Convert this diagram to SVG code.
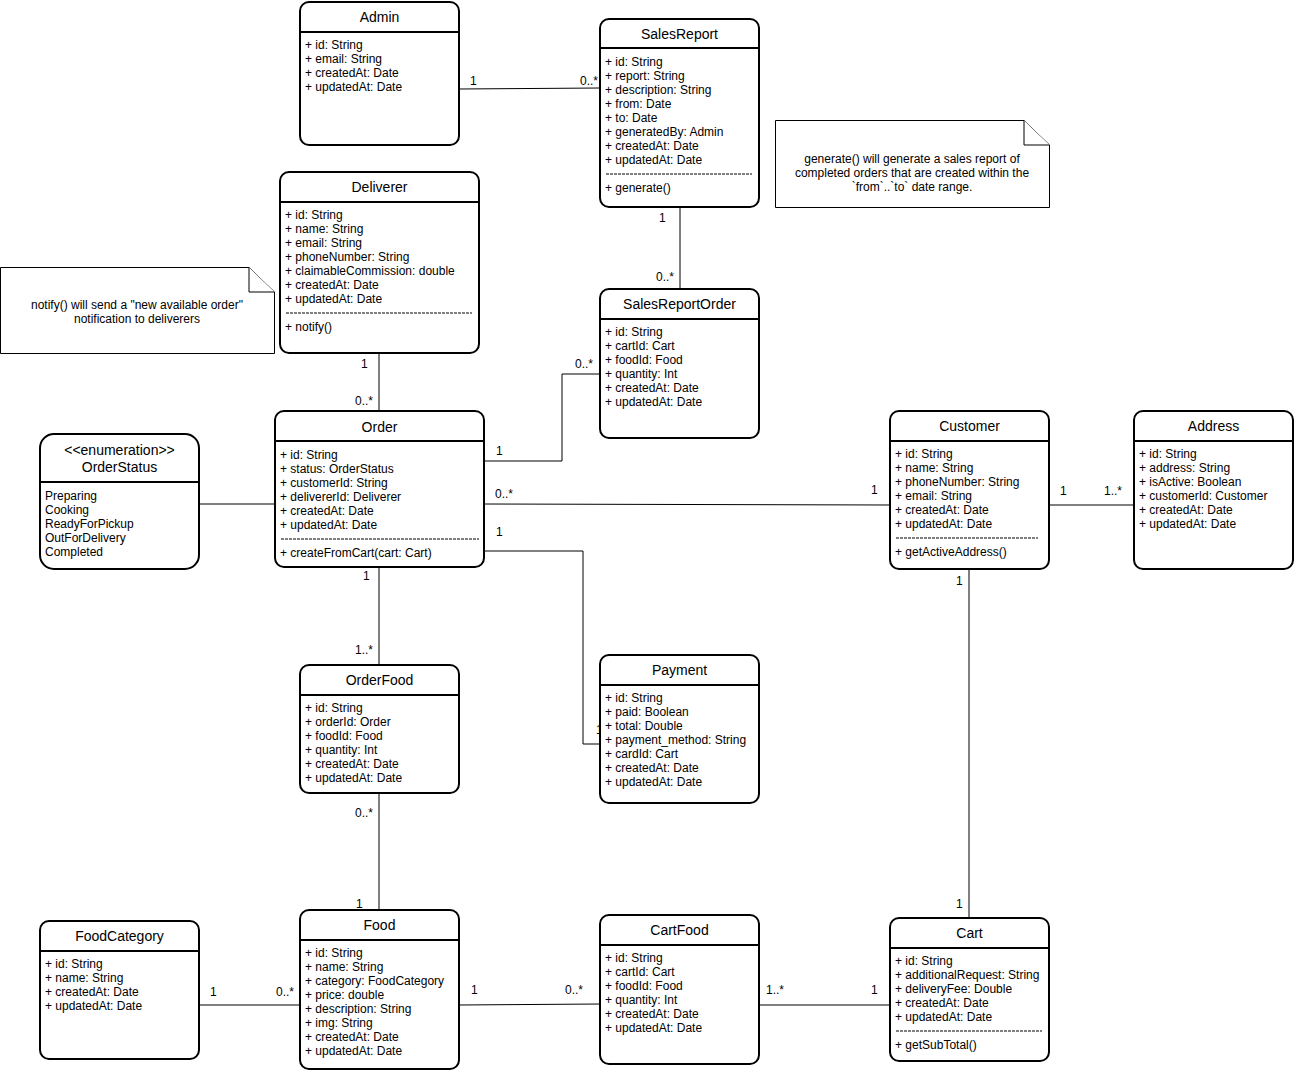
<svg xmlns="http://www.w3.org/2000/svg" width="1295" height="1071" viewBox="0 0 1295 1071">
<style>
.box{fill:#fff;stroke:#000;stroke-width:2}
.hd{stroke:#000;stroke-width:2}
.dash{stroke:#000;stroke-width:1;stroke-dasharray:3 1}
.t{font-family:"Liberation Sans",Arial,sans-serif;font-size:14px;text-anchor:middle;fill:#000}
.a{font-family:"Liberation Sans",Arial,sans-serif;font-size:12px;fill:#000}
.l{font-family:"Liberation Sans",Arial,sans-serif;font-size:12px;fill:#000}
.lm{font-family:"Liberation Sans",Arial,sans-serif;font-size:12px;fill:#000;text-anchor:middle}
.c{fill:none;stroke:#000;stroke-width:1}
.note{fill:#fff;stroke:#000;stroke-width:1}
</style>
<rect width="1295" height="1071" fill="#fff"/>

<g id="connectors">
<path class="c" d="M459,89 L600,88"/>
<path class="c" d="M680,207 L680,289"/>
<path class="c" d="M379,353 L379,411"/>
<path class="c" d="M484,461 L562,461 L562,374 L600,374"/>
<path class="c" d="M199,504 L275,504"/>
<path class="c" d="M484,504 L890,505"/>
<path class="c" d="M484,551 L583,551 L583,744 L600,744"/>
<path class="c" d="M379,567 L379,665"/>
<path class="c" d="M379,793 L379,910"/>
<path class="c" d="M199,1005 L300,1005"/>
<path class="c" d="M459,1005 L600,1004"/>
<path class="c" d="M759,1005 L890,1005"/>
<path class="c" d="M1049,505 L1134,505"/>
<path class="c" d="M969,569 L969,918"/>
<text class="l" x="470" y="85">1</text>
<text class="l" x="580" y="85">0..*</text>
<text class="l" x="659" y="222">1</text>
<text class="l" x="656" y="281">0..*</text>
<text class="l" x="361" y="368">1</text>
<text class="l" x="355" y="405">0..*</text>
<text class="l" x="496" y="455">1</text>
<text class="l" x="575" y="368">0..*</text>
<text class="l" x="495" y="498">0..*</text>
<text class="l" x="871" y="494">1</text>
<text class="l" x="496" y="536">1</text>
<text class="l" x="596" y="734">1</text>
<text class="l" x="363" y="580">1</text>
<text class="l" x="355" y="654">1..*</text>
<text class="l" x="355" y="817">0..*</text>
<text class="l" x="356" y="908">1</text>
<text class="l" x="210" y="996">1</text>
<text class="l" x="276" y="996">0..*</text>
<text class="l" x="471" y="994">1</text>
<text class="l" x="565" y="994">0..*</text>
<text class="l" x="766" y="994">1..*</text>
<text class="l" x="871" y="994">1</text>
<text class="l" x="1060" y="495">1</text>
<text class="l" x="1104" y="495">1..*</text>
<text class="l" x="956" y="585">1</text>
<text class="l" x="956" y="908">1</text>
</g>

<g id="Admin">
<rect class="box" x="300" y="2" width="159" height="143" rx="9"/>
<line class="hd" x1="300" y1="32" x2="459" y2="32"/>
<text class="t" x="379.5" y="22">Admin</text>
<text class="a" x="305" y="49">+ id: String</text>
<text class="a" x="305" y="63">+ email: String</text>
<text class="a" x="305" y="77">+ createdAt: Date</text>
<text class="a" x="305" y="91">+ updatedAt: Date</text>
</g>

<g id="SalesReport">
<rect class="box" x="600" y="19" width="159" height="188" rx="9"/>
<line class="hd" x1="600" y1="48" x2="759" y2="48"/>
<text class="t" x="679.5" y="39">SalesReport</text>
<text class="a" x="605" y="66">+ id: String</text>
<text class="a" x="605" y="80">+ report: String</text>
<text class="a" x="605" y="94">+ description: String</text>
<text class="a" x="605" y="108">+ from: Date</text>
<text class="a" x="605" y="122">+ to: Date</text>
<text class="a" x="605" y="136">+ generatedBy: Admin</text>
<text class="a" x="605" y="150">+ createdAt: Date</text>
<text class="a" x="605" y="164">+ updatedAt: Date</text>
<line class="dash" x1="606" y1="174" x2="752" y2="174"/>
<text class="a" x="605" y="192">+ generate()</text>
</g>

<g id="Deliverer">
<rect class="box" x="280" y="172" width="199" height="181" rx="9"/>
<line class="hd" x1="280" y1="202" x2="479" y2="202"/>
<text class="t" x="379.5" y="192">Deliverer</text>
<text class="a" x="285" y="219">+ id: String</text>
<text class="a" x="285" y="233">+ name: String</text>
<text class="a" x="285" y="247">+ email: String</text>
<text class="a" x="285" y="261">+ phoneNumber: String</text>
<text class="a" x="285" y="275">+ claimableCommission: double</text>
<text class="a" x="285" y="289">+ createdAt: Date</text>
<text class="a" x="285" y="303">+ updatedAt: Date</text>
<line class="dash" x1="286" y1="313" x2="472" y2="313"/>
<text class="a" x="285" y="331">+ notify()</text>
</g>

<g id="SalesReportOrder">
<rect class="box" x="600" y="289" width="159" height="149" rx="9"/>
<line class="hd" x1="600" y1="319" x2="759" y2="319"/>
<text class="t" x="679.5" y="309">SalesReportOrder</text>
<text class="a" x="605" y="336">+ id: String</text>
<text class="a" x="605" y="350">+ cartId: Cart</text>
<text class="a" x="605" y="364">+ foodId: Food</text>
<text class="a" x="605" y="378">+ quantity: Int</text>
<text class="a" x="605" y="392">+ createdAt: Date</text>
<text class="a" x="605" y="406">+ updatedAt: Date</text>
</g>

<g id="NoteDeliverer">
<path class="note" d="M0.5,267.5 L249,267.5 L274.5,292 L274.5,353.5 L0.5,353.5 Z"/>
<path class="note" d="M249,267.5 L249,292 L274.5,292"/>
<text class="lm" x="137" y="309">notify() will send a "new available order"</text>
<text class="lm" x="137" y="323">notification to deliverers</text>
</g>

<g id="NoteSalesReport">
<path class="note" d="M775.5,120.5 L1024,120.5 L1049.5,145 L1049.5,207.5 L775.5,207.5 Z"/>
<path class="note" d="M1024,120.5 L1024,145 L1049.5,145"/>
<text class="lm" x="912" y="163">generate() will generate a sales report of</text>
<text class="lm" x="912" y="177">completed orders that are created within the</text>
<text class="lm" x="912" y="191">`from`..`to` date range.</text>
</g>

<g id="OrderStatus">
<rect class="box" x="40" y="434" width="159" height="135" rx="14"/>
<line class="hd" x1="40" y1="482" x2="199" y2="482"/>
<text class="t" x="119.5" y="455">&lt;&lt;enumeration&gt;&gt;</text>
<text class="t" x="119.5" y="472">OrderStatus</text>
<text class="a" x="45" y="500">Preparing</text>
<text class="a" x="45" y="514">Cooking</text>
<text class="a" x="45" y="528">ReadyForPickup</text>
<text class="a" x="45" y="542">OutForDelivery</text>
<text class="a" x="45" y="556">Completed</text>
</g>

<g id="Order">
<rect class="box" x="275" y="411" width="209" height="156" rx="9"/>
<line class="hd" x1="275" y1="441" x2="484" y2="441"/>
<text class="t" x="379.5" y="432">Order</text>
<text class="a" x="280" y="459">+ id: String</text>
<text class="a" x="280" y="473">+ status: OrderStatus</text>
<text class="a" x="280" y="487">+ customerId: String</text>
<text class="a" x="280" y="501">+ delivererId: Deliverer</text>
<text class="a" x="280" y="515">+ createdAt: Date</text>
<text class="a" x="280" y="529">+ updatedAt: Date</text>
<line class="dash" x1="281" y1="539" x2="479" y2="539"/>
<text class="a" x="280" y="557">+ createFromCart(cart: Cart)</text>
</g>

<g id="Customer">
<rect class="box" x="890" y="411" width="159" height="158" rx="9"/>
<line class="hd" x1="890" y1="441" x2="1049" y2="441"/>
<text class="t" x="969.5" y="431">Customer</text>
<text class="a" x="895" y="458">+ id: String</text>
<text class="a" x="895" y="472">+ name: String</text>
<text class="a" x="895" y="486">+ phoneNumber: String</text>
<text class="a" x="895" y="500">+ email: String</text>
<text class="a" x="895" y="514">+ createdAt: Date</text>
<text class="a" x="895" y="528">+ updatedAt: Date</text>
<line class="dash" x1="896" y1="538" x2="1038" y2="538"/>
<text class="a" x="895" y="556">+ getActiveAddress()</text>
</g>

<g id="Address">
<rect class="box" x="1134" y="411" width="159" height="158" rx="9"/>
<line class="hd" x1="1134" y1="441" x2="1293" y2="441"/>
<text class="t" x="1213.5" y="431">Address</text>
<text class="a" x="1139" y="458">+ id: String</text>
<text class="a" x="1139" y="472">+ address: String</text>
<text class="a" x="1139" y="486">+ isActive: Boolean</text>
<text class="a" x="1139" y="500">+ customerId: Customer</text>
<text class="a" x="1139" y="514">+ createdAt: Date</text>
<text class="a" x="1139" y="528">+ updatedAt: Date</text>
</g>

<g id="OrderFood">
<rect class="box" x="300" y="665" width="159" height="128" rx="9"/>
<line class="hd" x1="300" y1="695" x2="459" y2="695"/>
<text class="t" x="379.5" y="685">OrderFood</text>
<text class="a" x="305" y="712">+ id: String</text>
<text class="a" x="305" y="726">+ orderId: Order</text>
<text class="a" x="305" y="740">+ foodId: Food</text>
<text class="a" x="305" y="754">+ quantity: Int</text>
<text class="a" x="305" y="768">+ createdAt: Date</text>
<text class="a" x="305" y="782">+ updatedAt: Date</text>
</g>

<g id="Payment">
<rect class="box" x="600" y="655" width="159" height="148" rx="9"/>
<line class="hd" x1="600" y1="685" x2="759" y2="685"/>
<text class="t" x="679.5" y="675">Payment</text>
<text class="a" x="605" y="702">+ id: String</text>
<text class="a" x="605" y="716">+ paid: Boolean</text>
<text class="a" x="605" y="730">+ total: Double</text>
<text class="a" x="605" y="744">+ payment_method: String</text>
<text class="a" x="605" y="758">+ cardId: Cart</text>
<text class="a" x="605" y="772">+ createdAt: Date</text>
<text class="a" x="605" y="786">+ updatedAt: Date</text>
</g>

<g id="FoodCategory">
<rect class="box" x="40" y="921" width="159" height="138" rx="9"/>
<line class="hd" x1="40" y1="951" x2="199" y2="951"/>
<text class="t" x="119.5" y="941">FoodCategory</text>
<text class="a" x="45" y="968">+ id: String</text>
<text class="a" x="45" y="982">+ name: String</text>
<text class="a" x="45" y="996">+ createdAt: Date</text>
<text class="a" x="45" y="1010">+ updatedAt: Date</text>
</g>

<g id="Food">
<rect class="box" x="300" y="910" width="159" height="159" rx="9"/>
<line class="hd" x1="300" y1="940" x2="459" y2="940"/>
<text class="t" x="379.5" y="930">Food</text>
<text class="a" x="305" y="957">+ id: String</text>
<text class="a" x="305" y="971">+ name: String</text>
<text class="a" x="305" y="985">+ category: FoodCategory</text>
<text class="a" x="305" y="999">+ price: double</text>
<text class="a" x="305" y="1013">+ description: String</text>
<text class="a" x="305" y="1027">+ img: String</text>
<text class="a" x="305" y="1041">+ createdAt: Date</text>
<text class="a" x="305" y="1055">+ updatedAt: Date</text>
</g>

<g id="CartFood">
<rect class="box" x="600" y="915" width="159" height="149" rx="9"/>
<line class="hd" x1="600" y1="945" x2="759" y2="945"/>
<text class="t" x="679.5" y="935">CartFood</text>
<text class="a" x="605" y="962">+ id: String</text>
<text class="a" x="605" y="976">+ cartId: Cart</text>
<text class="a" x="605" y="990">+ foodId: Food</text>
<text class="a" x="605" y="1004">+ quantity: Int</text>
<text class="a" x="605" y="1018">+ createdAt: Date</text>
<text class="a" x="605" y="1032">+ updatedAt: Date</text>
</g>

<g id="Cart">
<rect class="box" x="890" y="918" width="159" height="143" rx="9"/>
<line class="hd" x1="890" y1="948" x2="1049" y2="948"/>
<text class="t" x="969.5" y="938">Cart</text>
<text class="a" x="895" y="965">+ id: String</text>
<text class="a" x="895" y="979">+ additionalRequest: String</text>
<text class="a" x="895" y="993">+ deliveryFee: Double</text>
<text class="a" x="895" y="1007">+ createdAt: Date</text>
<text class="a" x="895" y="1021">+ updatedAt: Date</text>
<line class="dash" x1="896" y1="1031" x2="1042" y2="1031"/>
<text class="a" x="895" y="1049">+ getSubTotal()</text>
</g>
</svg>
